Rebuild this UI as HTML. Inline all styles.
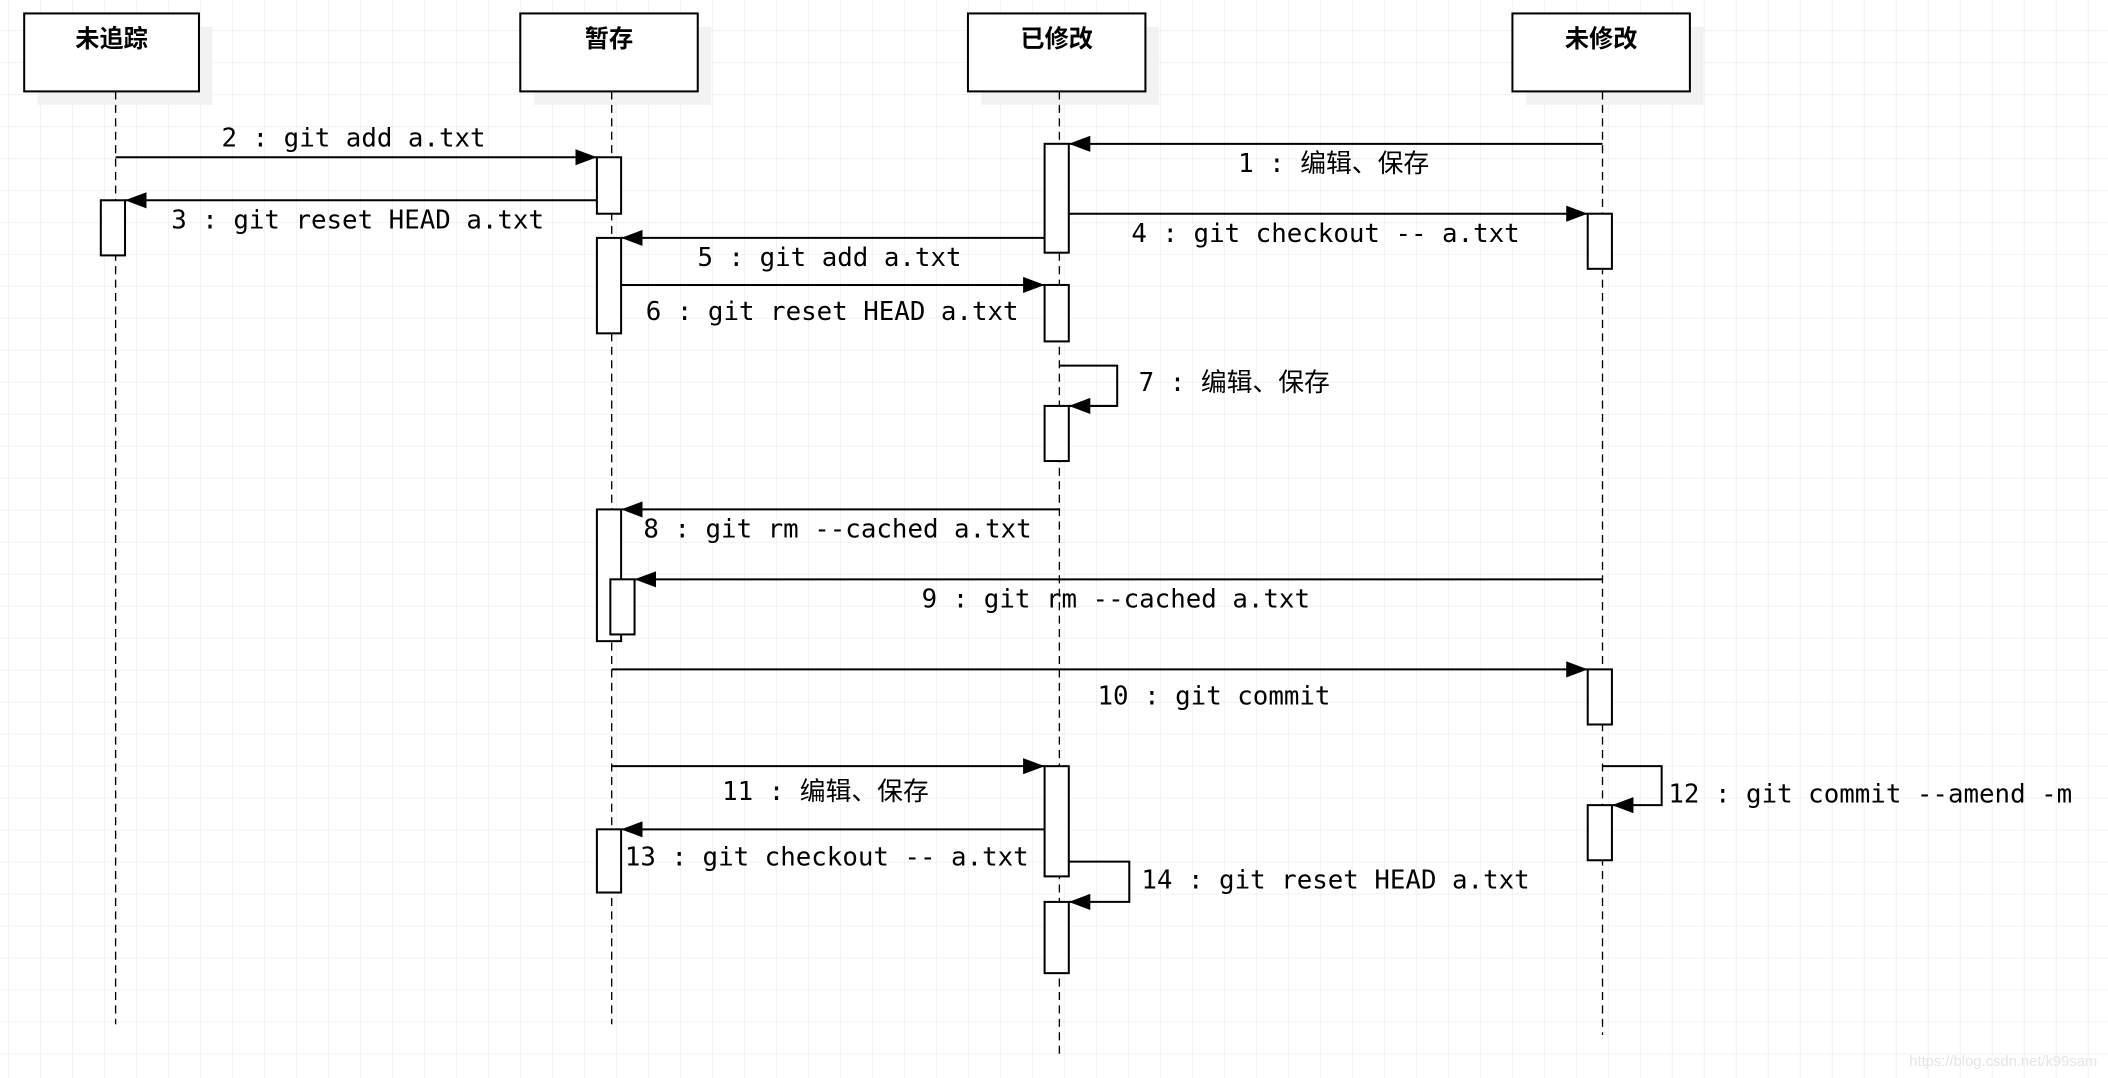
<!DOCTYPE html>
<html><head><meta charset="utf-8"><style>
html,body{margin:0;padding:0;background:#fff;}
svg{display:block;}
.t{font-family:"DejaVu Sans Mono","Liberation Mono","Noto Sans CJK SC",monospace;font-size:19.2px;fill:#000;}
.h{font-family:"Liberation Sans","Noto Sans CJK SC",sans-serif;font-size:18px;font-weight:bold;fill:#000;}
</style></head><body>
<svg width="2108" height="1078" viewBox="0 0 1568 802" preserveAspectRatio="none" xmlns="http://www.w3.org/2000/svg">
<defs>
<pattern id="g" x="6" y="22.3" width="23.8" height="23.8" patternUnits="userSpaceOnUse">
<path d="M0 0H23.8M0 0V23.8" stroke="#ececec" stroke-width="1" fill="none"/>
</pattern>
<marker id="a" markerWidth="16" markerHeight="12" refX="16" refY="6" orient="auto" markerUnits="userSpaceOnUse">
<path d="M0 0L16 6L0 12Z" fill="#000"/>
</marker>
</defs>
<rect width="1568" height="802" fill="url(#g)"/>
<g fill="#f2f2f2">
<rect x="28" y="20" width="130" height="58"/>
<rect x="397" y="20" width="132" height="58"/>
<rect x="730" y="20" width="132" height="58"/>
<rect x="1135" y="20" width="132" height="58"/>
</g>
<g fill="#fff" stroke="#000" stroke-width="1.5">
<rect x="18" y="10" width="130" height="58"/>
<rect x="387" y="10" width="132" height="58"/>
<rect x="720" y="10" width="132" height="58"/>
<rect x="1125" y="10" width="132" height="58"/>
</g>
<g class="h" text-anchor="middle">
<text x="83" y="35">未追踪</text>
<text x="453" y="35">暂存</text>
<text x="786" y="35">已修改</text>
<text x="1191" y="35">未修改</text>
</g>
<g stroke="#000" stroke-width="1" stroke-dasharray="6,4">
<line x1="86" y1="68" x2="86" y2="762"/>
<line x1="455" y1="68" x2="455" y2="762"/>
<line x1="788" y1="68" x2="788" y2="785"/>
<line x1="1192" y1="68" x2="1192" y2="770"/>
</g>
<g fill="#fff" stroke="#000" stroke-width="1.5">
<rect x="75" y="149" width="18" height="41"/>
<rect x="444" y="117" width="18" height="42"/>
<rect x="444" y="177" width="18" height="71"/>
<rect x="444" y="379" width="18" height="98"/>
<rect x="454" y="431" width="18" height="41"/>
<rect x="444" y="617" width="18" height="47"/>
<rect x="777" y="107" width="18" height="81"/>
<rect x="777" y="212" width="18" height="42"/>
<rect x="777" y="302" width="18" height="41"/>
<rect x="777" y="570" width="18" height="82"/>
<rect x="777" y="671" width="18" height="53"/>
<rect x="1181" y="159" width="18" height="41"/>
<rect x="1181" y="498" width="18" height="41"/>
<rect x="1181" y="599" width="18" height="41"/>
</g>
<g stroke="#000" stroke-width="1.5" fill="none" marker-end="url(#a)">
<line x1="1192" y1="107" x2="795" y2="107"/>
<line x1="86" y1="117" x2="444" y2="117"/>
<line x1="444" y1="149" x2="93" y2="149"/>
<line x1="795" y1="159" x2="1181" y2="159"/>
<line x1="777" y1="177" x2="462" y2="177"/>
<line x1="462" y1="212" x2="777" y2="212"/>
<polyline points="788,272 831,272 831,302 795,302"/>
<line x1="788" y1="379" x2="462" y2="379"/>
<line x1="1192" y1="431" x2="472" y2="431"/>
<line x1="455" y1="498" x2="1181" y2="498"/>
<line x1="455" y1="570" x2="777" y2="570"/>
<polyline points="1192,570 1236,570 1236,599 1199,599"/>
<line x1="777" y1="617" x2="462" y2="617"/>
<polyline points="795,641 840,641 840,671 795,671"/>
</g>
<g class="t">
<text x="992" y="128" text-anchor="middle">1 : 编辑、保存</text>
<text x="263" y="109" text-anchor="middle">2 : git add a.txt</text>
<text x="266" y="170" text-anchor="middle">3 : git reset HEAD a.txt</text>
<text x="986" y="180" text-anchor="middle">4 : git checkout -- a.txt</text>
<text x="617" y="198" text-anchor="middle">5 : git add a.txt</text>
<text x="619" y="238" text-anchor="middle">6 : git reset HEAD a.txt</text>
<text x="847" y="291">7 : 编辑、保存</text>
<text x="623" y="400" text-anchor="middle">8 : git rm --cached a.txt</text>
<text x="830" y="452" text-anchor="middle">9 : git rm --cached a.txt</text>
<text x="903" y="524" text-anchor="middle">10 : git commit</text>
<text x="614" y="595" text-anchor="middle">11 : 编辑、保存</text>
<text x="1241" y="597">12 : git commit --amend -m</text>
<text x="615" y="644" text-anchor="middle">13 : git checkout -- a.txt</text>
<text x="849" y="661">14 : git reset HEAD a.txt</text>
</g>
<text x="1560" y="793" text-anchor="end" font-family="Liberation Sans,sans-serif" font-size="11" fill="#e4e4e4">https://blog.csdn.net/k99sam</text>
</svg>
</body></html>
